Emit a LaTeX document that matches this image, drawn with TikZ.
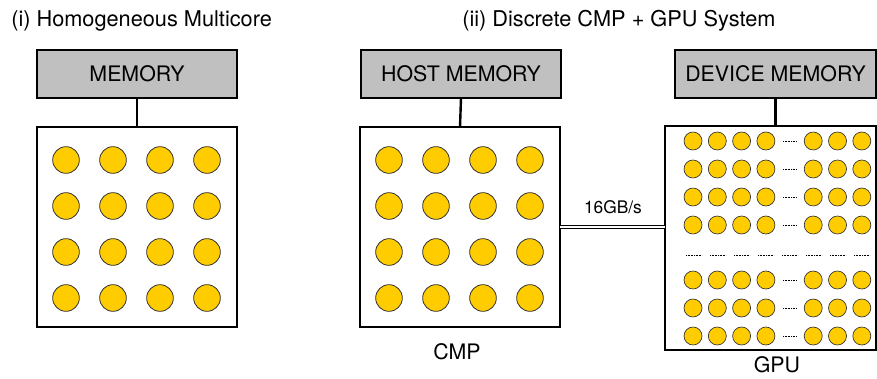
\documentclass[tikz,border=0pt]{standalone}
\usepackage{fontspec}
\setmainfont{TeX Gyre Heros}
\usepackage{tikz}
\usetikzlibrary{positioning, calc}

\definecolor{memgray}{HTML}{C0C0C0}
\definecolor{coreyellow}{HTML}{FFCC00}

\begin{document}
\begin{tikzpicture}
    [x=0.75pt, y=-0.75pt,
    membox/.style={rectangle, draw=black, line width=0.8pt, fill=memgray, inner sep=0pt, outer sep=0pt,
        minimum width=150pt, minimum height=36pt, font=\fontsize{16pt}{18pt}\selectfont},
    chipbox/.style={rectangle, draw=black, line width=0.8pt, fill=white, inner sep=0pt, outer sep=0pt},
    bigcore/.style={circle, draw=black!80, line width=0.6pt, fill=coreyellow, inner sep=0pt, minimum size=20pt},
    smallcore/.style={circle, draw=black!80, line width=0.5pt, fill=coreyellow, inner sep=0pt, minimum size=13.5pt},
    bus/.style={line width=1.8pt},
    title/.style={inner sep=0pt, anchor=base west, font=\fontsize{16.3pt}{18pt}\selectfont},
    caption/.style={inner sep=0pt, anchor=base, font=\fontsize{16pt}{18pt}\selectfont},
    gap/.style={line width=0.6pt, dash pattern=on 0.6pt off 0.6pt}]

    \useasboundingbox (0,0) rectangle (877,378);

    %Titles
    \node[title](t1) at (11,27){(i) Homogeneous Multicore};
    \node[title](t2) at (462,27){(ii) Discrete CMP + GPU System};

    %Nodes
    \node[membox](mem) at (137,74){MEMORY};
    \node[chipbox, minimum width=150pt, minimum height=150pt](multi) at (137,227){};

    \node[membox](host) at (461,74){HOST MEMORY};
    \node[chipbox, minimum width=150pt, minimum height=150pt](cmp) at (460,227){};
    \node[caption](cmplabel) at (457,359){CMP};

    \node[membox, minimum width=150.75pt](dev) at (775.5,74){DEVICE MEMORY};
    \node[chipbox, minimum width=158.25pt, minimum height=168pt](gpu) at (770.5,238){};
    \node[caption](gpulabel) at (777,372.5){GPU};

    \node[inner sep=0pt, font=\fontsize{13pt}{15pt}\selectfont](bw) at (613,207){16GB/s};

    %Cores
    \foreach \i in {0,...,3}
        \foreach \j in {0,...,3}{
            \node[bigcore](m\i\j) at (66+47*\i,160+46*\j){};
            \node[bigcore](c\i\j) at (389+47*\i,160+46*\j){};
        }

    \foreach \j/\y in {0/141,1/169,2/197,3/225,4/280,5/308,6/336}{
        \foreach \i in {0,...,3}
            \node[smallcore](g\i\j) at (693+24.3*\i,\y){};
        \foreach \i in {4,5,6}
            \node[smallcore](g\i\j) at (716+24.3*\i,\y){};
        \coordinate (ga\j) at (783,\y);
        \coordinate (gb\j) at (797,\y);
        \draw[gap](ga\j)--(gb\j);
    }
    \foreach \x in {686,710,734,758,782,806,830,854}{
        \coordinate (da\x) at (\x,255);
        \coordinate (db\x) at (\x+16,255);
        \draw[gap](da\x)--(db\x);
    }

    %Lines
    \draw[bus](mem.south)--(multi.north);
    \draw[bus](host.south)--(cmp.north);
    \draw[bus](dev.south)--(dev.south |- gpu.north);
    \draw[double, double distance=1.5pt, line width=0.7pt](cmp.east)--(cmp.east -| gpu.west);
\end{tikzpicture}
\end{document}
